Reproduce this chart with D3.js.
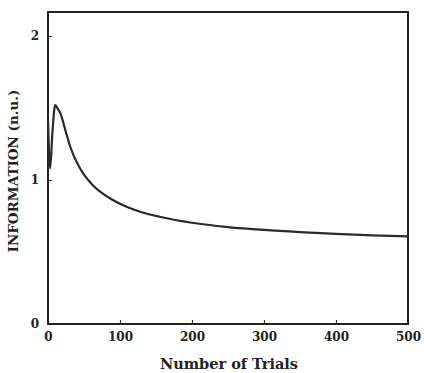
<!DOCTYPE html>
<html>
<head>
<meta charset="utf-8">
<script src="https://cdn.jsdelivr.net/npm/d3@7"></script>
<style>
  html, body { margin: 0; padding: 0; background: #fff; }
  svg { display: block; }
  text { font-family: "DejaVu Serif", serif; font-weight: bold; fill: #222; }
</style>
</head>
<body>
<svg id="chart" width="424" height="373"></svg>
<script>
const trials = [0, 1, 3, 6, 10, 13, 17, 25, 30, 44, 62, 86, 110, 130, 155, 200, 250, 300, 350, 400, 450, 500];
const information = [1.42, 1.25, 1.08, 1.32, 1.52, 1.50, 1.465, 1.33, 1.245, 1.085, 0.965, 0.873, 0.812, 0.776, 0.745, 0.703, 0.673, 0.653, 0.638, 0.626, 0.616, 0.608];
const xTicks = [0, 100, 200, 300, 400, 500];
const yTicks = [0, 1, 2];
const xLabel = "Number of Trials";
const yLabel = "INFORMATION (n.u.)";

const svg = d3.select("#chart");
const m = { left: 48, right: 16, top: 12, bottom: 49 };
const W = 424, H = 373;
const x = d3.scaleLinear().domain([0, 500]).range([m.left, W - m.right]);
const y = d3.scaleLinear().domain([0, 2.1667]).range([H - m.bottom, m.top]);

// x axis
const gx = svg.append("g").attr("transform", `translate(0,${H - m.bottom})`)
  .call(d3.axisBottom(x).tickValues(xTicks).tickSize(-4).tickPadding(8).tickFormat(d3.format("d")));
gx.select(".domain").remove();
gx.selectAll("line").attr("stroke", "#333").attr("stroke-width", 1.2);
gx.selectAll("text").attr("font-size", 12).attr("font-family", "DejaVu Serif").attr("font-weight", "bold").attr("fill", "#222");

// y axis
const gy = svg.append("g").attr("transform", `translate(${m.left},0)`)
  .call(d3.axisLeft(y).tickValues(yTicks).tickSize(-4).tickPadding(9).tickFormat(d3.format("d")));
gy.select(".domain").remove();
gy.selectAll("line").attr("stroke", "#333").attr("stroke-width", 1.2);
gy.selectAll("text").attr("font-size", 12).attr("font-family", "DejaVu Serif").attr("font-weight", "bold").attr("fill", "#222");

// frame
svg.append("rect")
  .attr("x", x(0)).attr("y", y(2.1667))
  .attr("width", x(500) - x(0)).attr("height", y(0) - y(2.1667))
  .attr("fill", "none").attr("stroke", "#222").attr("stroke-width", 2);

// curve
const line = d3.line().x((d, i) => x(trials[i])).y(d => y(d)).curve(d3.curveMonotoneX);
svg.append("path").datum(information)
  .attr("d", line).attr("fill", "none").attr("stroke", "#2a2a2a").attr("stroke-width", 2.2);

// labels
svg.append("text").attr("x", 229).attr("y", 369).attr("text-anchor", "middle")
  .attr("font-size", 14.5).text(xLabel);
svg.append("text").attr("transform", "translate(18,171) rotate(-90)").attr("text-anchor", "middle")
  .attr("font-size", 13.5).text(yLabel);
</script>
</body>
</html>
